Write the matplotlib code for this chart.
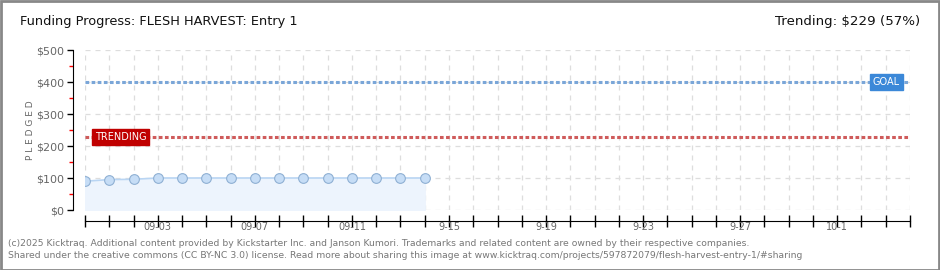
import matplotlib
matplotlib.use("Agg")
import matplotlib.pyplot as plt
import matplotlib.dates as mdates
from matplotlib.patches import Rectangle
from datetime import datetime, timedelta

# ---- data ----
dates = ["2025-08-31", "2025-09-01", "2025-09-02", "2025-09-03", "2025-09-04",
         "2025-09-05", "2025-09-06", "2025-09-07", "2025-09-08", "2025-09-09",
         "2025-09-10", "2025-09-11", "2025-09-12", "2025-09-13", "2025-09-14"]
pledged = [90, 95, 96, 100, 100, 100, 100, 100, 100, 100, 100, 100, 100, 100, 100]
goal = 400
trending = 229
x_start = "2025-08-31"
x_end = "2025-10-04"
tick_label_dates = ["2025-09-03", "2025-09-07", "2025-09-11", "2025-09-15",
                    "2025-09-19", "2025-09-23", "2025-09-27", "2025-10-01"]
tick_labels = ["09-03", "09-07", "09-11", "9-15", "9-19", "9-23", "9-27", "10-1"]
y_ticks = [0, 100, 200, 300, 400, 500]
y_labels = ["$0", "$100", "$200", "$300", "$400", "$500"]

d = [datetime.strptime(s, "%Y-%m-%d") for s in dates]
xs = datetime.strptime(x_start, "%Y-%m-%d")
xe = datetime.strptime(x_end, "%Y-%m-%d")

W, H = 940, 270
fig = plt.figure(figsize=(W / 100, H / 100), dpi=100)
ax = fig.add_axes([85 / W, 1 - 210 / H, (910 - 85) / W, 160 / H])
ax.set_xlim(xs, xe)
ax.set_ylim(0, 500)

# grid
grid_c = "#dddddd"
day = xs
while day <= xe:
    ax.axvline(day, color=grid_c, lw=0.9, ls=(0, (4, 4)), zorder=0)
    day += timedelta(days=1)
for yv in y_ticks:
    ax.axhline(yv, color=grid_c, lw=0.9, ls=(0, (4, 4)), zorder=0)

# series
ax.fill_between(d, pledged, 0, color="#edf4fd", zorder=1)
ax.plot(d, pledged, color="#b9d5f3", lw=1.2, zorder=2)
ax.plot(d, pledged, ls="none", marker="o", ms=7, mfc="#c6ddf6",
        mec="#8fb0d3", mew=0.8, zorder=3)

# goal / trending lines
ax.axhline(goal, color="#7aa6d8", lw=2.2, ls=(0, (1.2, 0.8)), zorder=2)
ax.axhline(trending, color="#cf5b5b", lw=2.2, ls=(0, (1.2, 0.8)), zorder=2)

# labels on lines
ax.text(0.988, goal, "GOAL", transform=ax.get_yaxis_transform(),
        ha="right", va="center", color="white", fontsize=7, zorder=5,
        bbox=dict(boxstyle="square,pad=0.3", fc="#3b88d8", ec="#3b88d8"))
ax.text(0.012, trending, "TRENDING", transform=ax.get_yaxis_transform(),
        ha="left", va="center", color="white", fontsize=7, zorder=5,
        bbox=dict(boxstyle="square,pad=0.3", fc="#c00000", ec="#c00000"))

# spines
for s in ["top", "right"]:
    ax.spines[s].set_visible(False)
ax.spines["left"].set_position(("outward", 9))
ax.spines["bottom"].set_position(("outward", 8))
ax.spines["left"].set_bounds(0, 500)
ax.spines["bottom"].set_bounds(mdates.date2num(xs), mdates.date2num(xe))
ax.spines["left"].set_color("black")
ax.spines["bottom"].set_color("black")

ax.set_yticks(y_ticks)
ax.set_yticklabels(y_labels, color="#666666", fontsize=8)
ax.set_yticks([50, 150, 250, 350, 450], minor=True)
ax.tick_params(axis="y", which="major", length=4, width=1, color="black", pad=2)
ax.tick_params(axis="y", which="minor", length=3, width=1, color="red")

ax.xaxis.set_major_locator(mdates.DayLocator())
ax.tick_params(axis="x", which="major", length=8, direction="inout", width=1,
               labelbottom=False)
for td, tl in zip(tick_label_dates, tick_labels):
    ax.annotate(tl, xy=(datetime.strptime(td, "%Y-%m-%d"), 0), xycoords=("data", "axes fraction"),
                xytext=(0, -9), textcoords="offset points", ha="center", va="top",
                color="#666666", fontsize=7)

ax.set_ylabel("P L E D G E D", color="#666666", fontsize=6.5, labelpad=1)

# header & footer
fig.text(20 / W, 1 - 22 / H, "Funding Progress: FLESH HARVEST: Entry 1",
         ha="left", va="center", fontsize=9.3, color="#111111")
fig.text(920 / W, 1 - 22 / H, "Trending: $229 (57%)",
         ha="right", va="center", fontsize=9.6, color="#111111")
fig.text(8 / W, 1 - 243 / H,
         "(c)2025 Kicktraq. Additional content provided by Kickstarter Inc. and Janson Kumori. "
         "Trademarks and related content are owned by their respective companies.",
         ha="left", va="center", fontsize=6.7, color="#777777")
fig.text(8 / W, 1 - 256 / H,
         "Shared under the creative commons (CC BY-NC 3.0) license. Read more about sharing this image at "
         "www.kicktraq.com/projects/597872079/flesh-harvest-entry-1/#sharing",
         ha="left", va="center", fontsize=6.7, color="#777777")

fig.patches.append(Rectangle((0.5 / W, 0.5 / H), 1 - 1.5 / W, 1 - 1.5 / H,
                             transform=fig.transFigure, fill=False,
                             ec="#888888", lw=2))

fig.savefig("out.png", dpi=100)
